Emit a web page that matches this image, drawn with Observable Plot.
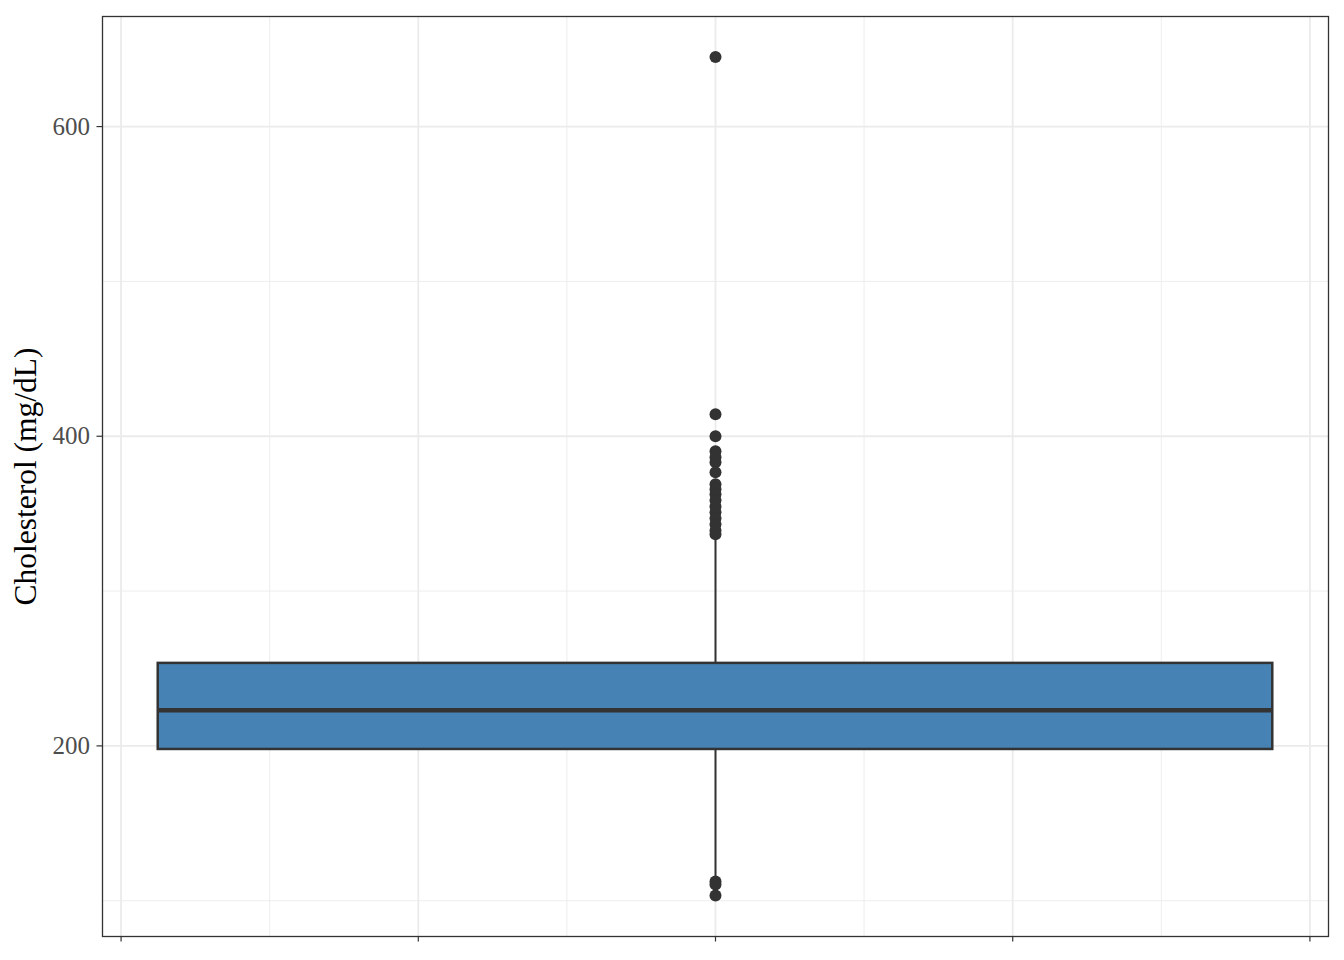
<!DOCTYPE html>
<html>
<head>
<meta charset="utf-8">
<script src="https://cdn.jsdelivr.net/npm/d3@7"></script>
<script src="https://cdn.jsdelivr.net/npm/@observablehq/plot@0.6"></script>
<style>
  html, body { margin: 0; padding: 0; background: #ffffff; }
  #chart svg { display: block; }
</style>
</head>
<body>
<div id="chart"></div>
<script>
// Box summary (Cholesterol, mg/dL)
const groups = [0];
const q1 = [197.7];
const median = [223.0];
const q3 = [253.3];
const whiskerLow = [115.0];
const whiskerHigh = [335.5];
const outliers = [645, 414.2, 400, 390.3, 386.4, 383.2, 376.7, 369.0, 365.8, 362.5,
                  358.6, 354.7, 350.9, 347.0, 343.1, 339.2, 336.7,
                  112.4, 110.5, 103.4];

const yMajor = [200, 400, 600];
const yMinor = [100, 300, 500];
const xMajor = [-0.4, -0.2, 0, 0.2, 0.4];
const xMinor = [-0.3, -0.1, 0.1, 0.3];
const yLabel = "Cholesterol (mg/dL)";

const halfWidth = 0.375;
const boxes = groups.map((g, i) => ({
  x: g, q1: q1[i], med: median[i], q3: q3[i], lo: whiskerLow[i], hi: whiskerHigh[i]
}));
const outlierData = outliers.map(v => ({x: groups[0], y: v}));

const ink = "#333333";

const chart = Plot.plot({
  width: 1344,
  height: 960,
  marginLeft: 102,
  marginRight: 16,
  marginTop: 16,
  marginBottom: 24,
  style: {fontFamily: "'Liberation Serif', 'DejaVu Serif', serif", background: "#ffffff"},
  x: {domain: [-0.4125, 0.4125], axis: null},
  y: {domain: [76.9, 671.1], axis: null},
  marks: [
    Plot.gridY(yMinor, {stroke: "#ebebeb", strokeOpacity: 1, strokeWidth: 0.9}),
    Plot.gridX(xMinor, {stroke: "#ebebeb", strokeOpacity: 1, strokeWidth: 0.9}),
    Plot.gridY(yMajor, {stroke: "#ebebeb", strokeOpacity: 1, strokeWidth: 1.8}),
    Plot.gridX(xMajor, {stroke: "#ebebeb", strokeOpacity: 1, strokeWidth: 1.8}),
    Plot.axisY(yMajor, {
      anchor: "left", tickSize: 5.5, tickPadding: 7, fontSize: 25,
      stroke: ink, strokeWidth: 1.2, fill: "#4d4d4d", label: null
    }),
    Plot.axisX(xMajor, {
      anchor: "bottom", tickSize: 5.5, tickFormat: () => "", stroke: ink,
      strokeWidth: 1.2, label: null
    }),
    // whiskers
    Plot.ruleX(boxes, {x: "x", y1: "q3", y2: "hi", stroke: ink, strokeWidth: 2}),
    Plot.ruleX(boxes, {x: "x", y1: "q1", y2: "lo", stroke: ink, strokeWidth: 2}),
    // box
    Plot.rect(boxes, {
      x1: d => d.x - halfWidth, x2: d => d.x + halfWidth, y1: "q1", y2: "q3",
      fill: "#4682b4", stroke: ink, strokeWidth: 2.5
    }),
    // median
    Plot.ruleY(boxes, {
      y: "med", x1: d => d.x - halfWidth, x2: d => d.x + halfWidth,
      stroke: ink, strokeWidth: 4.6
    }),
    // outliers
    Plot.dot(outlierData, {x: "x", y: "y", r: 6, fill: ink, stroke: "none"}),
    Plot.frame({stroke: ink, strokeWidth: 1.3}),
    Plot.text([yLabel], {
      frameAnchor: "left", dx: -77, rotate: -90, fontSize: 31.5,
      fill: "#000000", text: d => d, textAnchor: "middle", lineAnchor: "middle"
    })
  ]
});
document.getElementById("chart").appendChild(chart);
</script>
</body>
</html>
